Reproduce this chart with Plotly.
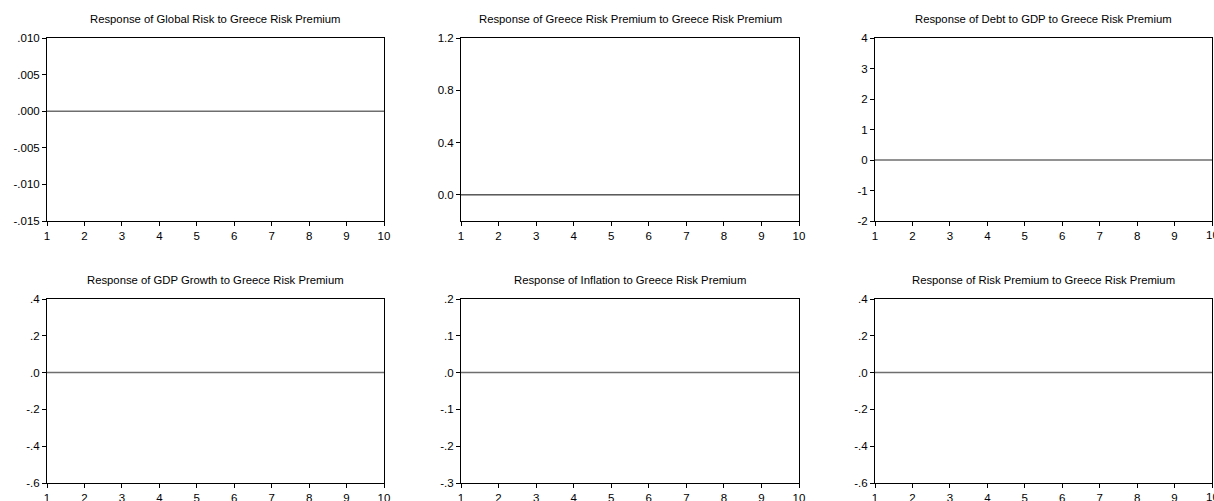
import plotly.graph_objects as go

periods = [1, 2, 3, 4, 5, 6, 7, 8, 9, 10]

titles = [
    "Response of Global Risk to Greece Risk Premium",
    "Response of Greece Risk Premium to Greece Risk Premium",
    "Response of Debt to GDP to Greece Risk Premium",
    "Response of GDP Growth to Greece Risk Premium",
    "Response of Inflation to Greece Risk Premium",
    "Response of Risk Premium to Greece Risk Premium",
]

resp_global_risk = [0.0, 0.0, 0.0, 0.0, 0.0, 0.0, 0.0, 0.0, 0.0, 0.0]
resp_greece_rp = [0.0, 0.0, 0.0, 0.0, 0.0, 0.0, 0.0, 0.0, 0.0, 0.0]
resp_debt_gdp = [0.0, 0.0, 0.0, 0.0, 0.0, 0.0, 0.0, 0.0, 0.0, 0.0]
resp_gdp_growth = [0.0, 0.0, 0.0, 0.0, 0.0, 0.0, 0.0, 0.0, 0.0, 0.0]
resp_inflation = [0.0, 0.0, 0.0, 0.0, 0.0, 0.0, 0.0, 0.0, 0.0, 0.0]
resp_risk_premium = [0.0, 0.0, 0.0, 0.0, 0.0, 0.0, 0.0, 0.0, 0.0, 0.0]

series = [resp_global_risk, resp_greece_rp, resp_debt_gdp,
          resp_gdp_growth, resp_inflation, resp_risk_premium]

y_ranges = [[-0.015, 0.010], [-0.2, 1.2], [-2, 4], [-0.6, 0.4], [-0.3, 0.2], [-0.6, 0.4]]
y_tickvals = [
    [-0.015, -0.010, -0.005, 0.0, 0.005, 0.010],
    [0.0, 0.4, 0.8, 1.2],
    [-2, -1, 0, 1, 2, 3, 4],
    [-0.6, -0.4, -0.2, 0.0, 0.2, 0.4],
    [-0.3, -0.2, -0.1, 0.0, 0.1, 0.2],
    [-0.6, -0.4, -0.2, 0.0, 0.2, 0.4],
]
y_ticktext = [
    ["-.015", "-.010", "-.005", ".000", ".005", ".010"],
    ["0.0", "0.4", "0.8", "1.2"],
    ["-2", "-1", "0", "1", "2", "3", "4"],
    ["-.6", "-.4", "-.2", ".0", ".2", ".4"],
    ["-.3", "-.2", "-.1", ".0", ".1", ".2"],
    ["-.6", "-.4", "-.2", ".0", ".2", ".4"],
]
line_colors = ["#6e6e6e", "#000000", "#6e6e6e", "#6e6e6e", "#6e6e6e", "#6e6e6e"]
line_widths = [1.5, 1, 1.5, 1.5, 1.5, 1.5]

W, H = 1214, 501
x_px = [(47, 384), (461, 799), (875, 1212)]
y_px = [(38, 221), (299, 483)]
title_y_px = [19, 280]

font_family = "Liberation Sans, Arial, sans-serif"

fig = go.Figure()
annotations = []
for i in range(6):
    r, c = divmod(i, 3)
    xa = "x" if i == 0 else f"x{i+1}"
    ya = "y" if i == 0 else f"y{i+1}"
    fig.add_trace(go.Scatter(
        x=periods, y=series[i], mode="lines",
        line=dict(color=line_colors[i], width=line_widths[i]),
        xaxis=xa, yaxis=ya, showlegend=False, hoverinfo="skip"))
    xd = [x_px[c][0] / W, x_px[c][1] / W]
    yd = [1 - y_px[r][1] / H, 1 - y_px[r][0] / H]
    axis_common = dict(showline=True, linecolor="black", linewidth=1, mirror=True,
                       showgrid=False, zeroline=False, ticks="outside", ticklen=4,
                       tickcolor="black", tickwidth=1, automargin=False,
                       tickfont=dict(family=font_family, size=11.5, color="black"))
    xkey = "xaxis" if i == 0 else f"xaxis{i+1}"
    ykey = "yaxis" if i == 0 else f"yaxis{i+1}"
    fig.update_layout(**{
        xkey: dict(domain=xd, range=[1, 10], tickvals=periods,
                   ticktext=[str(p) for p in periods], anchor=ya, **axis_common),
        ykey: dict(domain=yd, range=y_ranges[i], tickvals=y_tickvals[i],
                   ticktext=y_ticktext[i], anchor=xa, **axis_common),
    })
    annotations.append(dict(
        text=titles[i], x=(xd[0] + xd[1]) / 2, y=1 - title_y_px[r] / H,
        xref="paper", yref="paper", showarrow=False, xanchor="center", yanchor="middle",
        font=dict(family=font_family, size=11.3, color="black")))

# right-column last tick label runs past the page edge in the original
for i in (2, 5):
    r = i // 3
    annotations.append(dict(
        text=str(periods[-1]), x=periods[-1], xref=f"x{i+1}",
        y=1 - (y_px[r][1] + 6) / H, yref="paper", yanchor="top", xanchor="center",
        showarrow=False, font=dict(family=font_family, size=11.5, color="black")))

fig.update_layout(width=W, height=H, margin=dict(l=0, r=0, t=0, b=0),
                  paper_bgcolor="white", plot_bgcolor="white",
                  annotations=annotations)
fig.write_html("out.html", config={"displayModeBar": False},
               post_script="document.body.style.margin='0';document.body.style.overflow='hidden';")
